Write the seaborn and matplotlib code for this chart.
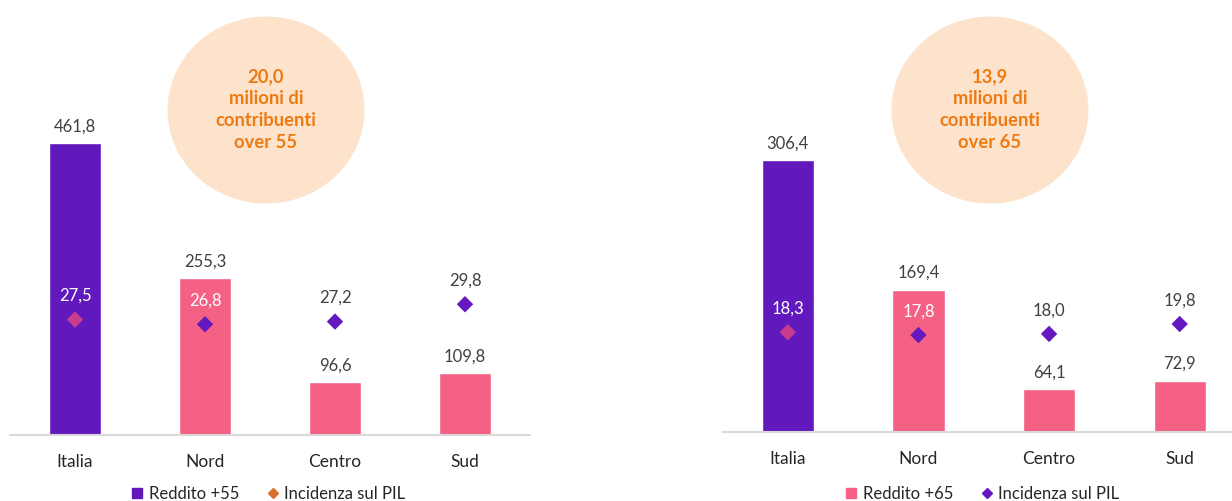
import numpy as np
import pandas as pd
import seaborn as sns
import matplotlib.pyplot as plt
from matplotlib.patches import Ellipse
from matplotlib.lines import Line2D

# data
regions = ["Italia", "Nord", "Centro", "Sud"]
reddito_55 = [461.8, 255.3, 96.6, 109.8]
incidenza_55 = [27.5, 26.8, 27.2, 29.8]
reddito_65 = [306.4, 169.4, 64.1, 72.9]
incidenza_65 = [18.3, 17.8, 18.0, 19.8]
bubble_55 = ["20,0", "milioni di", "contribuenti", "over 55"]
bubble_65 = ["13,9", "milioni di", "contribuenti", "over 65"]

PURPLE = "#6118BC"
PINK = "#F46185"
MAGENTA = "#C83C8E"
DIAMOND = "#6418BE"
ORANGE_TXT = "#EE7A12"
ORANGE_MK = "#D9702E"
BUBBLE = "#FDE3CC"
GREY = "#404040"

sns.set_theme(style="white")
plt.rcParams["font.family"] = ["Lato", "DejaVu Sans"]

W, H = 1232, 501
fig = plt.figure(figsize=(W / 100, H / 100), dpi=100)


def fmt(v):
    return "{:.1f}".format(v).replace(".", ",")


def panel(rect, bars, pil, ylim1, ylim2, bubble_xy, bubble_lines, legend_label, legend_color,
          legend_mk, legend_x):
    ax = fig.add_axes(rect)
    ax.patch.set_visible(False)
    df = pd.DataFrame({"region": regions, "value": bars})
    colors = [PURPLE] + [PINK] * 3
    sns.barplot(data=df, x="region", y="value", hue="region", palette=colors,
                width=0.4, saturation=1, legend=False, ax=ax)
    ax.set_xlim(-0.5, 3.5)
    ax.set_ylim(*ylim1)
    ax.set_xlabel("")
    ax.set_ylabel("")
    ax.set_yticks([])
    for s in ["top", "right", "left"]:
        ax.spines[s].set_visible(False)
    ax.spines["bottom"].set_color("#D9D9D9")
    ax.spines["bottom"].set_linewidth(1.5)
    ax.tick_params(axis="x", length=0, pad=14, labelsize=12.5, labelcolor="#262626")
    for i, v in enumerate(bars):
        ax.annotate(fmt(v), (i, v), xytext=(0, 12), textcoords="offset points",
                    ha="center", va="center", fontsize=12, color=GREY)

    ax2 = ax.twinx()
    ax2.patch.set_visible(False)
    pos = np.arange(len(regions))
    mk_colors = [MAGENTA] + [DIAMOND] * 3
    sns.scatterplot(x=pos, y=pil, hue=pos, palette=mk_colors, marker="D", s=70,
                    linewidth=0, legend=False, ax=ax2)
    ax2.set_ylim(*ylim2)
    ax2.set_yticks([])
    ax2.set_ylabel("")
    for s in ["top", "right", "left", "bottom"]:
        ax2.spines[s].set_visible(False)
    for i, v in enumerate(pil):
        c = "white" if bars[i] > 150 else GREY
        ax2.annotate(fmt(v), (i, v), xytext=(0, 17), textcoords="offset points",
                     ha="center", va="center", fontsize=12, color=c)

    # bubble with number of taxpayers
    cx, cy = bubble_xy
    fig.add_artist(Ellipse((cx / W, 1 - cy / H), 197 / W, 187 / H,
                           transform=fig.transFigure, facecolor=BUBBLE, edgecolor="none",
                           zorder=-1))
    for k, line in enumerate(bubble_lines):
        fig.text(cx / W, 1 - (77 + 22 * k) / H, line, ha="center", va="center",
                 fontsize=13.2, fontweight="bold", color=ORANGE_TXT, zorder=5)

    handles = [
        Line2D([], [], linestyle="none", marker="s", markersize=7, color=legend_color[0]),
        Line2D([], [], linestyle="none", marker="D", markersize=5, color=legend_mk),
    ]
    fig.legend(handles, [legend_label, "Incidenza sul PIL"], loc="center",
               bbox_to_anchor=(legend_x / W, 1 - 494 / H), ncol=2, frameon=False,
               fontsize=12, handlelength=0.8, handletextpad=0.3, columnspacing=1.6,
               labelcolor="#262626")
    return ax


panel([10 / W, 1 - 435 / H, 520 / W, 415 / H], reddito_55, incidenza_55,
      (15.3, 650), (10.2, 72.4), (266, 110), bubble_55, "Reddito +55", [PURPLE],
      ORANGE_MK, 268)
panel([722.5 / W, 1 - 432 / H, 522.5 / W, 412 / H], reddito_65, incidenza_65,
      (18.6, 454.6), (0.16, 75.1), (990, 110), bubble_65, "Reddito +65", [PINK],
      DIAMOND, 982)

fig.savefig("out.png", dpi=100)
